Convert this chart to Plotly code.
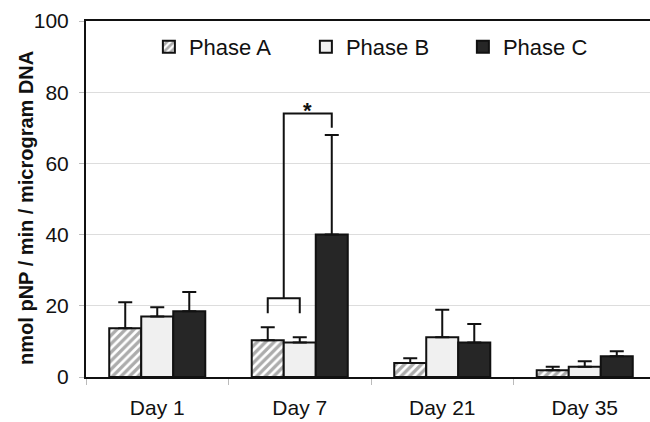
import plotly.graph_objects as go

days = ["Day 1", "Day 7", "Day 21", "Day 35"]
phase_a = [13.7, 10.3, 3.9, 1.9]
phase_a_err = [7.3, 3.7, 1.4, 1.0]
phase_b = [17.0, 9.7, 11.2, 2.9]
phase_b_err = [2.6, 1.5, 7.7, 1.5]
phase_c = [18.5, 40.0, 9.7, 5.8]
phase_c_err = [5.4, 28.0, 5.2, 1.4]

# significance bracket (Day 7): A+B vs C
sig_day_index = 1
low_bracket_top = 22.1
low_bracket_leg = 17.9
high_bracket_top = 74.0
high_bracket_leg = 70.0

y_title = "nmol pNP / min / microgram DNA"

FONT = "Liberation Sans, Arial, sans-serif"
BARGAP = 0.326
w = (1 - BARGAP) / 3

def err(vals):
    return dict(type="data", array=vals, arrayminus=[0] * len(vals), symmetric=False,
                color="#111111", thickness=2, width=7, visible=True)

fig = go.Figure()
fig.add_trace(go.Bar(
    name="Phase A", x=days, y=phase_a, error_y=err(phase_a_err),
    marker=dict(color="white", line=dict(color="#111111", width=2),
                pattern=dict(shape="/", fgcolor="#5a5a5a", bgcolor="white", size=6, solidity=0.55)),
))
fig.add_trace(go.Bar(
    name="Phase B", x=days, y=phase_b, error_y=err(phase_b_err),
    marker=dict(color="#f0f0f0", line=dict(color="#111111", width=2)),
))
fig.add_trace(go.Bar(
    name="Phase C", x=days, y=phase_c, error_y=err(phase_c_err),
    marker=dict(color="#262626", line=dict(color="#111111", width=2)),
))

xa = sig_day_index - w
xb = sig_day_index
xc = sig_day_index + w
xm = (xa + xb) / 2
line = dict(color="#111111", width=2)
fig.add_shape(type="path", xref="x", yref="y",
              path=f"M {xa},{low_bracket_leg} L {xa},{low_bracket_top} L {xb},{low_bracket_top} L {xb},{low_bracket_leg}",
              line=line)
fig.add_shape(type="path", xref="x", yref="y",
              path=f"M {xm},{low_bracket_top} L {xm},{high_bracket_top} L {xc},{high_bracket_top} L {xc},{high_bracket_leg}",
              line=line)
fig.add_annotation(x=(xm + xc) / 2, y=high_bracket_top, xref="x", yref="y", text="<b>*</b>",
                   showarrow=False, yanchor="bottom", yshift=-11, font=dict(family=FONT, size=22, color="#111111"))

fig.add_annotation(x=-0.1064, y=0.475, xref="paper", yref="paper", text=f"<b>{y_title}</b>",
                   textangle=-90, showarrow=False, xanchor="center", yanchor="middle",
                   font=dict(family=FONT, size=20, color="#111111"))

fig.update_layout(
    width=650, height=422,
    margin=dict(l=86, r=0, t=21, b=45),
    paper_bgcolor="white", plot_bgcolor="white",
    barmode="group", bargap=BARGAP, bargroupgap=0,
    font=dict(family=FONT, color="#111111", size=21),
    showlegend=True,
    legend=dict(orientation="h", x=0.1115, xanchor="left", y=0.927, yanchor="middle",
                font=dict(family=FONT, size=22, color="#111111"),
                entrywidth=112, entrywidthmode="pixels", bgcolor="rgba(0,0,0,0)",
                traceorder="normal"),
    xaxis=dict(type="category", range=[-0.5, -0.5 + 564 / 142.5],
               showline=True, linecolor="#111111", linewidth=2, mirror=True,
               ticks="outside", tickson="boundaries", ticklen=6, tickcolor="#bbbbbb", tickwidth=1,
               showgrid=False, tickfont=dict(family=FONT, size=21, color="#111111"),
               ticklabelstandoff=11),
    yaxis=dict(range=[0, 100], tickvals=[0, 20, 40, 60, 80, 100],
               showline=True, linecolor="#111111", linewidth=2,
               ticks="outside", ticklen=5, tickcolor="#bbbbbb", tickwidth=1,
               showgrid=True, gridcolor="#dddddd", gridwidth=1, zeroline=False,
               tickfont=dict(family=FONT, size=21, color="#111111"),
               ticklabelstandoff=6),
)

fig.write_html("out.html", config={"displayModeBar": False},
               post_script="document.body.style.margin='0';document.body.style.overflow='hidden';")
